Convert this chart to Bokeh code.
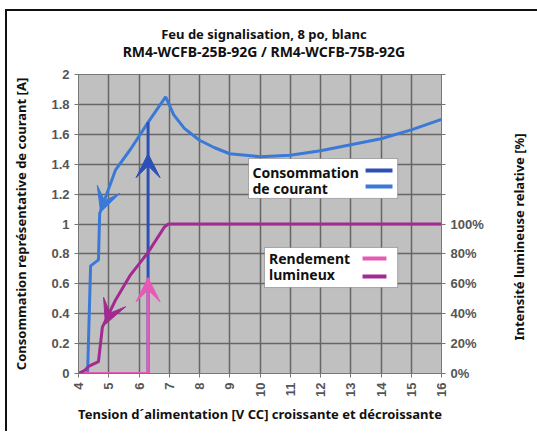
import math
import json
from bokeh.plotting import figure
from bokeh.models import (Range1d, LinearAxis, FixedTicker, CustomJSTickFormatter,
                          Label, BoxAnnotation, Arrow, VeeHead)
from bokeh.embed import file_html
from bokeh.resources import INLINE

# ---------------- data ----------------
title_1 = "Feu de signalisation, 8 po, blanc"
title_2 = "RM4-WCFB-25B-92G / RM4-WCFB-75B-92G"
x_label = "Tension d´alimentation [V CC] croissante et décroissante"
y_label = "Consommation représentative de courant [A]"
y2_label = "Intensité lumineuse relative [%]"

x_ticks = [4, 5, 6, 7, 8, 9, 10, 11, 12, 13, 14, 15, 16]
y_ticks = [0, 0.2, 0.4, 0.6, 0.8, 1.0, 1.2, 1.4, 1.6, 1.8, 2.0]
pct_ticks = [0, 20, 40, 60, 80, 100]
pct_minor = [120, 140, 160, 180, 200]

# current, increasing voltage (dark blue)
cur_up_v = [4.0, 6.3, 6.3]
cur_up_a = [0.0, 0.0, 1.68]
# current, full loop / decreasing voltage (light blue)
cur_v = [16.0, 15.0, 14.0, 13.0, 12.0, 11.0, 10.0, 9.0, 8.5, 8.0, 7.5, 7.15, 6.88,
         6.3, 5.72, 5.22, 4.7, 4.66, 4.4, 4.3, 4.0]
cur_a = [1.70, 1.63, 1.57, 1.53, 1.49, 1.46, 1.45, 1.47, 1.51, 1.56, 1.64, 1.73, 1.85,
         1.68, 1.50, 1.36, 1.07, 0.76, 0.72, 0.0, 0.0]

# light output, increasing voltage (pink) [%]
lum_up_v = [4.0, 6.3, 6.3]
lum_up_p = [0, 0, 64]
# light output, decreasing voltage (purple) [%]
lum_v = [16.0, 6.97, 6.84, 6.3, 5.72, 5.22, 4.79, 4.66, 4.35, 4.2, 4.0]
lum_p = [100, 100, 98, 81, 66, 49, 31, 8, 5, 2, 0]

# arrows: (x_start, y_start, x_end, y_end)
arr_cur_up = (6.3, 1.2, 6.3, 1.47)
arr_cur_dn = (5.22, 1.36, 4.73, 1.08)
arr_lum_up = (6.3, 30, 6.3, 64)
arr_lum_dn = (5.22, 49, 4.89, 33)

legend_cur = ["Consommation", "de courant"]
legend_lum = ["Rendement", "lumineux"]

# ---------------- style ----------------
C_DARK = "#2c50b6"
C_LIGHT = "#3b79d8"
C_PINK = "#e65ab6"
C_PURP = "#a32a90"
FONT = "Noto Sans"
TICK_FONT = "Liberation Sans"

# anchor positions of the texts placed as single tick labels
TITLE_X = 10.13       # horizontal centre of the title lines
Y2_TITLE_START = 0.22  # where the right-hand title starts (reads upward)

p = figure(frame_width=363, frame_height=299,
           x_range=Range1d(4, 16), y_range=Range1d(0, 2),
           output_backend="svg", toolbar_location=None, title=None,
           min_border_left=71, min_border_right=94, min_border_top=63,
           min_border_bottom=58, background_fill_color="#c0c0c0",
           border_fill_color="white", outline_line_color="#777777")
# page box line on top and left, as in the original document
p.styles = {"margin-left": "5px", "margin-top": "9px",
            "border-top": "2px solid #111", "border-left": "2px solid #111"}

p.extra_y_ranges = {"pct": Range1d(0, 200)}

# grid
p.xgrid.ticker = FixedTicker(ticks=x_ticks)
p.ygrid.ticker = FixedTicker(ticks=y_ticks)
for g in (p.xgrid, p.ygrid):
    g.grid_line_color = "#666666"
    g.grid_line_width = 1.5

# axes
def style_axis(ax):
    ax.axis_line_color = "#777777"
    ax.major_tick_line_color = "#777777"
    ax.minor_tick_line_color = "#777777"
    ax.major_tick_out = 4
    ax.major_tick_in = 0
    ax.minor_tick_out = 0
    ax.minor_tick_in = 0
    ax.major_label_text_font = TICK_FONT
    ax.major_label_text_font_size = "13px"
    ax.major_label_text_font_style = "bold"
    ax.major_label_text_color = "#555555"
    ax.axis_label_text_font = FONT
    ax.axis_label_text_font_size = "13px"
    ax.axis_label_text_font_style = "bold"
    ax.axis_label_text_color = "#111111"

def text_axis(text, pos, standoff, size, y_range_name=None):
    kw = {"y_range_name": y_range_name} if y_range_name else {}
    ax = LinearAxis(ticker=FixedTicker(ticks=[pos]),
                    formatter=CustomJSTickFormatter(code="return %s;" % json.dumps(text)),
                    **kw)
    ax.axis_line_alpha = 0
    ax.major_tick_out = 0
    ax.major_tick_in = 0
    ax.minor_tick_out = 0
    ax.minor_tick_in = 0
    ax.major_label_standoff = standoff
    ax.major_label_text_font = FONT
    ax.major_label_text_font_size = size
    ax.major_label_text_font_style = "bold"
    ax.major_label_text_color = "#111111"
    return ax

xa = p.xaxis[0]
style_axis(xa)
xa.ticker = FixedTicker(ticks=x_ticks)
xa.major_label_orientation = math.pi / 2
xa.axis_label = x_label
xa.axis_label_standoff = 5

ya = p.yaxis[0]
style_axis(ya)
ya.ticker = FixedTicker(ticks=y_ticks)
ya.formatter = CustomJSTickFormatter(code="return String(Math.round(tick*10)/10);")
ya.axis_label = y_label
ya.axis_label_standoff = 18

ra = LinearAxis(y_range_name="pct",
                ticker=FixedTicker(ticks=pct_ticks, minor_ticks=pct_minor),
                formatter=CustomJSTickFormatter(code="return tick + '%';"))
style_axis(ra)
ra.minor_tick_out = 4
p.add_layout(ra, "right")

# right-hand title, reading bottom to top
ra2 = text_axis(y2_label, Y2_TITLE_START, 33, "13px")
ra2.major_label_orientation = math.pi / 2
p.add_layout(ra2, "right")

# chart title, two centred lines
ta2 = text_axis(title_2, TITLE_X, 14, "14px")
ta1 = text_axis(title_1, TITLE_X, -4, "13px")
p.add_layout(ta2, "above")
p.add_layout(ta1, "above")

# curves
p.line(cur_v, cur_a, line_color=C_LIGHT, line_width=3)
p.line(cur_up_v, cur_up_a, line_color=C_DARK, line_width=3)
p.line(lum_up_v, lum_up_p, y_range_name="pct", line_color=C_PINK, line_width=3)
p.line(lum_v, lum_p, y_range_name="pct", line_color=C_PURP, line_width=3)

def add_arrow(a, color, rng=None):
    kw = {}
    if rng:
        kw["y_range_name"] = rng
    p.add_layout(Arrow(x_start=a[0], y_start=a[1], x_end=a[2], y_end=a[3],
                       line_alpha=0,
                       end=VeeHead(size=24, fill_color=color, line_color=color),
                       **kw))

add_arrow(arr_cur_up, C_DARK)
add_arrow(arr_cur_dn, C_LIGHT)
add_arrow(arr_lum_up, C_PINK, "pct")
add_arrow(arr_lum_dn, C_PURP, "pct")

# legend boxes (custom: swatches on the right)
def legend_box(box, texts, text_x, text_y, sw_x, sw_y, colors):
    p.add_layout(BoxAnnotation(left=box[0], right=box[1], top=box[2], bottom=box[3],
                               fill_color="white", fill_alpha=1,
                               line_color="#222222", line_width=1))
    for tx, ty in zip(texts, text_y):
        p.add_layout(Label(x=text_x, y=ty, text=tx, text_baseline="middle",
                           text_font=FONT, text_font_size="14px",
                           text_font_style="bold", text_color="#111111"))
    for c, sy in zip(colors, sw_y):
        p.add_layout(Arrow(x_start=sw_x[0], y_start=sy, x_end=sw_x[1], y_end=sy,
                           start=None, end=None, line_color=c, line_width=4))

legend_box((9.62, 14.55, 1.438, 1.171), legend_cur, 9.75, (1.344, 1.237),
           (13.49, 14.38), (1.358, 1.251), (C_DARK, C_LIGHT))
legend_box((10.15, 14.55, 0.843, 0.575), legend_lum, 10.3, (0.769, 0.662),
           (13.39, 14.18), (0.769, 0.649), (C_PINK, C_PURP))

open("out.html", "w").write(file_html(p, INLINE))
